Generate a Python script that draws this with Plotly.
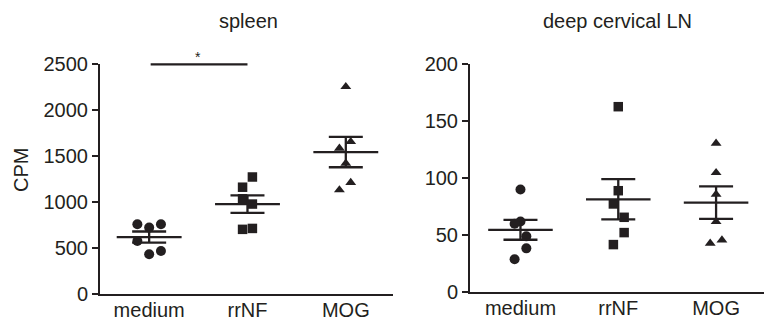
import numpy as np
import plotly.graph_objects as go

W, H = 764, 322

categories = ["medium", "rrNF", "MOG"]
markers = ["circle", "square", "triangle-up"]

# spleen (CPM)
spleen_medium = [761, 725, 761, 580, 435, 471]
spleen_rrnf = [1275, 1164, 1038, 981, 716, 706]
spleen_mog = [2257, 1587, 1659, 1424, 1214, 1134]

# deep cervical LN (CPM)
dcln_medium = [90, 62, 60, 49, 38.5, 29]
dcln_rrnf = [162.6, 89, 77.4, 65.7, 52.3, 41.8]
dcln_mog = [130.5, 104.8, 85.8, 61.9, 42.9, 45.8]

# horizontal scatter of dots within each group (category units)
spleen_jitter = [
    [-0.12, 0, 0.12, -0.12, 0, 0.12],
    [0.05, -0.05, -0.05, 0.05, 0.05, -0.05],
    [0, -0.065, 0.05, 0, 0.05, -0.065],
]
dcln_jitter = [
    [0, 0, -0.06, 0.06, 0.06, -0.06],
    [0, 0, -0.05, 0.06, 0.06, -0.05],
    [0, 0, 0, 0, -0.06, 0.06],
]

y_ticks_spleen = [0, 500, 1000, 1500, 2000, 2500]
y_ticks_dcln = [0, 50, 100, 150, 200]

INK = "#231f20"
FONT = "Liberation Sans, Arial, Helvetica, sans-serif"

fig = go.Figure()


def add_panel(groups, jitters, xa, ya):
    for i, (vals, jit) in enumerate(zip(groups, jitters)):
        fig.add_trace(go.Scatter(
            x=[i + j for j in jit], y=vals, mode="markers",
            marker=dict(symbol=markers[i], size=10 if i == 0 else 9.5, color=INK,
                        line=dict(width=0)),
            xaxis=xa, yaxis=ya, showlegend=False, cliponaxis=False, hoverinfo="y"))
        arr = np.array(vals, dtype=float)
        mean = arr.mean()
        sem = arr.std(ddof=1) / np.sqrt(len(arr))
        # mean line
        fig.add_trace(go.Scatter(
            x=[i - 0.33, i + 0.33], y=[mean, mean], mode="lines",
            line=dict(color=INK, width=2.3), xaxis=xa, yaxis=ya,
            showlegend=False, hoverinfo="skip", cliponaxis=False))
        # SEM bar
        fig.add_trace(go.Scatter(
            x=[i], y=[mean], mode="markers", marker=dict(size=0.1, color=INK, opacity=0),
            error_y=dict(type="constant", value=sem, color=INK, thickness=2.3, width=17),
            xaxis=xa, yaxis=ya, showlegend=False, hoverinfo="skip", cliponaxis=False))


add_panel([spleen_medium, spleen_rrnf, spleen_mog], spleen_jitter, "x", "y")
add_panel([dcln_medium, dcln_rrnf, dcln_mog], dcln_jitter, "x2", "y2")

# significance bar medium vs rrNF (annotation arrow so it is not clipped)
sig_y = max(y_ticks_spleen)
fig.add_annotation(x=1, y=sig_y, xref="x", yref="y", ax=0, ay=sig_y,
                   axref="x", ayref="y", text="", showarrow=True, arrowhead=0,
                   arrowwidth=2.2, arrowcolor=INK, standoff=0, startstandoff=0)
fig.add_annotation(x=0.5, y=sig_y, xref="x", yref="y", text="*",
                   showarrow=False, xanchor="center", yanchor="bottom", yshift=-3,
                   font=dict(size=14, color=INK, family=FONT))


def px_x(p):
    return p / W


def px_y(p):
    return 1 - p / H


axis_common = dict(showline=True, linewidth=2, linecolor=INK, showgrid=False,
                   zeroline=False, automargin=False,
                   tickfont=dict(size=20, color=INK, family=FONT))

fig.update_layout(
    width=W, height=H, margin=dict(l=0, r=0, t=0, b=0, autoexpand=False),
    paper_bgcolor="white", plot_bgcolor="white",
    xaxis=dict(domain=[px_x(100), px_x(393)], range=[-0.5, 2.48],
               tickvals=[0, 1, 2], ticktext=categories, ticks="",
               ticklabelstandoff=-3, anchor="y", **axis_common),
    yaxis=dict(domain=[px_y(294.3), px_y(64.3)], range=[0, 2500],
               tickvals=y_ticks_spleen, ticks="outside", ticklen=6, tickwidth=2,
               tickcolor=INK, anchor="x", **axis_common),
    xaxis2=dict(domain=[px_x(470), 1.0], range=[-0.516, 2.49],
                tickvals=[0, 1, 2], ticktext=categories, ticks="",
                ticklabelstandoff=-3, anchor="y2", **axis_common),
    yaxis2=dict(domain=[px_y(292.3), px_y(64)], range=[0, 200],
                tickvals=y_ticks_dcln, ticks="outside", ticklen=6, tickwidth=2,
                tickcolor=INK, anchor="x2", **axis_common),
)

fig.add_annotation(x=px_x(248), y=px_y(21), xref="paper", yref="paper", text="spleen",
                   xanchor="center", yanchor="middle",
                   showarrow=False, font=dict(size=20, color=INK, family=FONT))
fig.add_annotation(x=px_x(617), y=px_y(21), xref="paper", yref="paper",
                   text="deep cervical LN", xanchor="center", yanchor="middle",
                   showarrow=False, font=dict(size=20, color=INK, family=FONT))
fig.add_annotation(x=px_x(21), y=px_y(170), xref="paper", yref="paper", text="CPM",
                   textangle=-90, xanchor="center", yanchor="middle", showarrow=False,
                   font=dict(size=20, color=INK, family=FONT))

fig.write_html("out.html", config={"displayModeBar": False},
               post_script="document.body.style.margin='0';")
